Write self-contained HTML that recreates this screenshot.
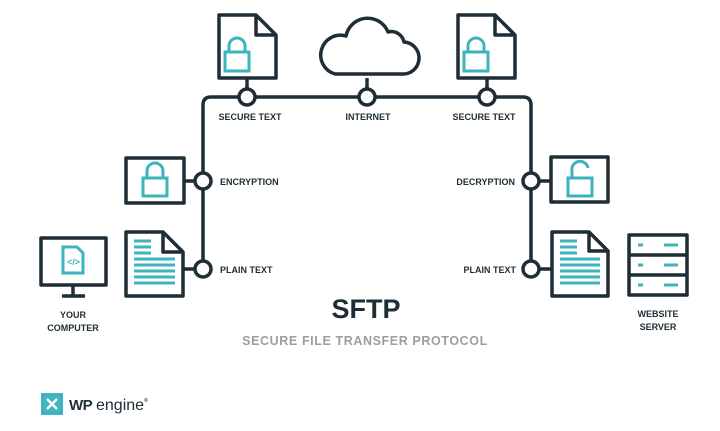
<!DOCTYPE html>
<html><head><style>
body{margin:0;background:#fff;}
svg{display:block}
text{font-family:"Liberation Sans",sans-serif;font-weight:bold;fill:#1f2d35}
</style></head><body>
<svg width="720" height="431" viewBox="0 0 720 431" xmlns="http://www.w3.org/2000/svg">
<g fill="none" stroke="#1f2d35" stroke-width="3.5" stroke-linejoin="round">
  <!-- main lines -->
  <path d="M203 269 V105 Q203 97 211 97 H523 Q531 97 531 105 V269"/>
  <!-- stems -->
  <line x1="247" y1="78" x2="247" y2="89"/>
  <line x1="367" y1="78" x2="367" y2="89"/>
  <line x1="487" y1="78" x2="487" y2="89"/>
  <line x1="185" y1="181" x2="195" y2="181"/>
  <line x1="183" y1="269" x2="195" y2="269"/>
  <line x1="539" y1="181" x2="551" y2="181"/>
  <line x1="539" y1="269" x2="552" y2="269"/>
  <!-- top-left doc -->
  <path d="M219 15 H256 L276 35 V78 H219 Z M256 15 V35 H276"/>
  <!-- top-right doc -->
  <path d="M458 15 H495 L515 35 V78 H458 Z M495 15 V35 H515"/>
  <!-- cloud -->
  <path d="M335 74 H402 A16 16 0 0 0 404 42 A13 13 0 0 0 388 32 A22 22 0 0 0 346 36 A19 19 0 0 0 335 74 Z"/>
  <!-- encryption box -->
  <rect x="126" y="158" width="58" height="45"/>
  <!-- decryption box -->
  <rect x="551" y="157" width="57" height="45"/>
  <!-- left plain doc -->
  <path d="M126 232 H163 L183 252 V296 H126 Z M163 232 V252 H183"/>
  <!-- right plain doc -->
  <path d="M552 232 H589 L608 251 V296 H552 Z M589 232 V251 H608"/>
  <!-- monitor -->
  <rect x="41" y="238" width="65" height="47"/>
  <line x1="73" y1="285" x2="73" y2="295"/>
  <line x1="62" y1="296" x2="85" y2="296"/>
  <!-- server -->
  <rect x="629" y="235" width="58" height="60"/>
  <line x1="629" y1="255" x2="687" y2="255"/>
  <line x1="629" y1="275" x2="687" y2="275"/>
</g>
<!-- circles -->
<g fill="#fff" stroke="#1f2d35" stroke-width="3.5">
  <circle cx="247" cy="97" r="8"/>
  <circle cx="367" cy="97" r="8"/>
  <circle cx="487" cy="97" r="8"/>
  <circle cx="203" cy="181" r="8"/>
  <circle cx="203" cy="269" r="8"/>
  <circle cx="531" cy="181" r="8"/>
  <circle cx="531" cy="269" r="8"/>
</g>
<!-- teal details -->
<g fill="none" stroke="#3bb4bd" stroke-width="3">
  <!-- locks -->
  <rect x="225" y="52" width="24" height="19"/>
  <path d="M229 52 V46 A8 8 0 0 1 245 46 V52"/>
  <rect x="464" y="52" width="24" height="19"/>
  <path d="M468 52 V46 A8 8 0 0 1 484 46 V52"/>
  <rect x="143" y="178" width="24" height="18"/>
  <path d="M147 178 V171 A8 8 0 0 1 163 171 V178"/>
  <rect x="568" y="178" width="24" height="18"/>
  <path d="M572 178 V171 A8 8 0 0 1 588 168"/>
  <!-- small file in monitor -->
  <path d="M63 247 H77 L83 253 V273 H63 Z"/>
</g>
<g stroke="#3bb4bd" stroke-width="3">
  <line x1="134" y1="241" x2="151" y2="241"/><line x1="134" y1="247" x2="151" y2="247"/><line x1="134" y1="253" x2="151" y2="253"/>
  <line x1="134" y1="259" x2="175" y2="259"/><line x1="134" y1="265" x2="175" y2="265"/><line x1="134" y1="271" x2="175" y2="271"/><line x1="134" y1="277" x2="175" y2="277"/><line x1="134" y1="283" x2="175" y2="283"/>
  <line x1="560" y1="241" x2="577" y2="241"/><line x1="560" y1="247" x2="577" y2="247"/><line x1="560" y1="253" x2="577" y2="253"/>
  <line x1="560" y1="259" x2="600" y2="259"/><line x1="560" y1="265" x2="600" y2="265"/><line x1="560" y1="271" x2="600" y2="271"/><line x1="560" y1="277" x2="600" y2="277"/><line x1="560" y1="283" x2="600" y2="283"/>
  <line x1="638" y1="245" x2="643" y2="245"/><line x1="664" y1="245" x2="678" y2="245"/>
  <line x1="638" y1="265" x2="643" y2="265"/><line x1="664" y1="265" x2="678" y2="265"/>
  <line x1="638" y1="285" x2="643" y2="285"/><line x1="664" y1="285" x2="678" y2="285"/>
</g>
<text x="67" y="265" font-size="9" fill="#3bb4bd" style="fill:#3bb4bd" font-weight="normal">&lt;/&gt;</text>
<!-- labels -->
<g font-size="9">
  <text x="250" y="120" text-anchor="middle">SECURE TEXT</text>
  <text x="368" y="120" text-anchor="middle">INTERNET</text>
  <text x="484" y="120" text-anchor="middle">SECURE TEXT</text>
  <text x="220" y="185">ENCRYPTION</text>
  <text x="220" y="273">PLAIN TEXT</text>
  <text x="515" y="185" text-anchor="end">DECRYPTION</text>
  <text x="516" y="273" text-anchor="end">PLAIN TEXT</text>
  <text x="73" y="318" text-anchor="middle">YOUR</text>
  <text x="73" y="331" text-anchor="middle">COMPUTER</text>
  <text x="658" y="317" text-anchor="middle">WEBSITE</text>
  <text x="658" y="330" text-anchor="middle">SERVER</text>
</g>
<text x="366" y="318" font-size="27" text-anchor="middle">SFTP</text>
<text x="365" y="345" font-size="12.5" text-anchor="middle" letter-spacing="0.6" style="fill:#9a9fa3">SECURE FILE TRANSFER PROTOCOL</text>
<!-- logo -->
<rect x="41" y="393" width="22" height="22" fill="#40b4c0"/>
<path d="M47 399 L57 409 M57 399 L47 409" stroke="#fff" stroke-width="2.5"/>
<text x="69" y="410" font-size="15" letter-spacing="-0.5">WP</text>
<text x="96" y="410" font-size="16" font-weight="normal" style="font-weight:normal">engine</text>
<text x="144" y="402" font-size="5" font-weight="normal">®</text>
</svg>
</body></html>
